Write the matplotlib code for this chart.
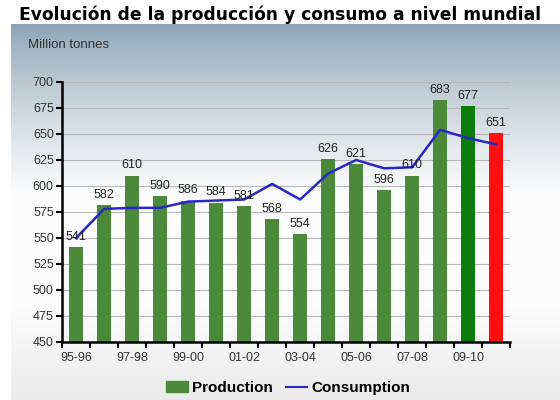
import numpy as np
import matplotlib
matplotlib.use("Agg")
import matplotlib.pyplot as plt
from matplotlib.patches import Patch
from matplotlib.lines import Line2D

# campañas 95-96 ... 10-11
seasons = ["95-96", "96-97", "97-98", "98-99", "99-00", "00-01", "01-02", "02-03",
           "03-04", "04-05", "05-06", "06-07", "07-08", "08-09", "09-10", "10-11"]
production = [541, 582, 610, 590, 586, 584, 581, 568, 554, 626, 621, 596, 610, 683, 677, 651]
consumption = [550, 578, 579, 579, 585, 586, 587, 602, 587, 612, 625, 617, 618, 654, 646, 640]
bar_colors = ["#4a8a3a"] * 14 + ["#0a7d0a", "#ff1010"]

narrow = ["Liberation Sans Narrow", "Liberation Sans"]

fig = plt.figure(figsize=(5.6, 4), dpi=100)

# fondo degradado del panel
bg = fig.add_axes([0.02, 0, 0.98, 0.94])
grad = np.linspace(0, 1, 256)
top = np.array([138, 163, 180]) / 255.0
white = np.array([0.99, 0.99, 0.99])
w = np.clip(grad / 0.45, 0, 1)[:, None] ** 0.8
img = top * (1 - w) + white * w
bottom_tint = np.array([0.92, 0.92, 0.92])
w2 = np.clip((grad - 0.75) / 0.25, 0, 1)[:, None]
img = img * (1 - w2) + bottom_tint * w2
bg.imshow(img[:, None, :], aspect="auto", extent=[0, 1, 0, 1])
bg.set_axis_off()

fig.text(0.5, 0.962, "Evolución de la producción y consumo a nivel mundial",
         ha="center", va="center", fontsize=12.3, fontweight="bold", family="DejaVu Sans")
fig.text(0.05, 0.887, "Million tonnes", ha="left", va="center", fontsize=9.5,
         family=narrow, color="#333333")

ax = fig.add_axes([0.111, 0.145, 0.8, 0.65])
ax.patch.set_alpha(0)
x = np.arange(len(seasons))
ax.bar(x, [p - 450 for p in production], bottom=450, width=0.48, color=bar_colors, zorder=2)
ax.plot(x, consumption, color="#2828c8", lw=1.8, zorder=3)

for xi, p in zip(x, production):
    ax.text(xi, p + 4, str(p), ha="center", va="bottom", fontsize=9,
            family=narrow, color="#222222", zorder=4)

ax.set_xlim(-0.5, len(seasons) - 0.5)
ax.set_ylim(450, 700)
ax.set_yticks(range(450, 701, 25))
ax.grid(axis="y", color="#b8b8b8", lw=0.8, zorder=0)
ax.set_xticks(np.arange(-0.5, len(seasons), 1))
ax.set_xticklabels([])
ax.set_xticks(x[::2], minor=True)
ax.set_xticklabels(seasons[::2], minor=True)
ax.tick_params(axis="x", which="minor", length=0, pad=7, labelsize=9)
ax.tick_params(axis="x", which="major", length=4, width=1.5, direction="out")
ax.tick_params(axis="y", length=4, width=1.5, labelsize=9, pad=2)
for lab in ax.get_xticklabels(minor=True) + ax.get_yticklabels():
    lab.set_family(narrow)
    lab.set_color("#333333")
for s in ["top", "right"]:
    ax.spines[s].set_visible(False)
ax.spines["left"].set_linewidth(1.8)
ax.spines["bottom"].set_linewidth(1.8)

handles = [Patch(color="#4a8a3a"), Line2D([], [], color="#2828c8", lw=1.5)]
fig.legend(handles, ["Production", "Consumption"], loc="center", bbox_to_anchor=(0.515, 0.03),
           ncol=2, frameon=False, prop={"family": "Liberation Sans", "size": 11, "weight": "bold"},
           handlelength=1.4, handletextpad=0.3, columnspacing=0.8)

fig.savefig("out.png", dpi=100)
